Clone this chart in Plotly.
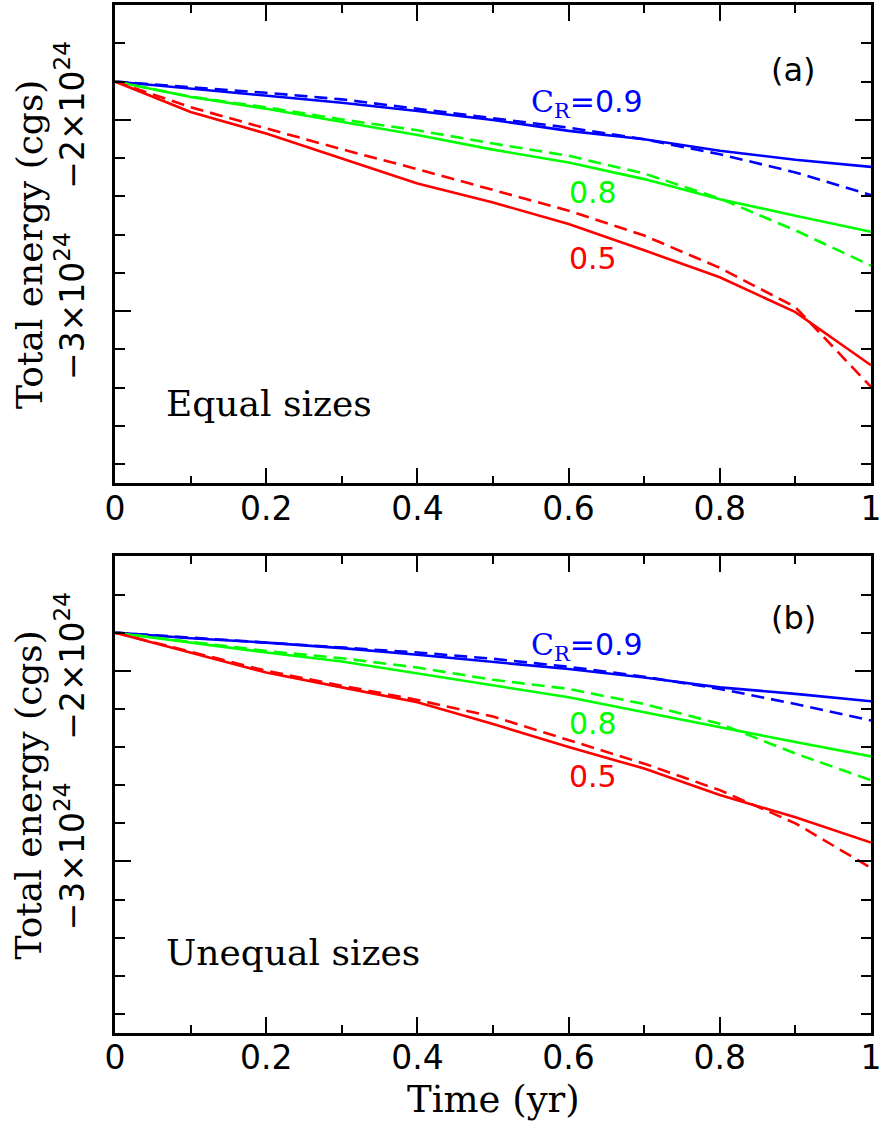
import plotly.graph_objects as go

# Energy values are given in units of 1e24 erg
E_UNIT = 1e24

time_yr = [0.0, 0.1, 0.2, 0.3, 0.4, 0.5, 0.6, 0.7, 0.8, 0.9, 1.0]

# Panel (a): equal sizes
eq_cr09_sim = [-1.80, -1.838, -1.873, -1.911, -1.954, -2.001, -2.058, -2.102, -2.162, -2.209, -2.246]
eq_cr09_model = [-1.80, -1.829, -1.859, -1.893, -1.942, -1.989, -2.041, -2.102, -2.180, -2.275, -2.394]
eq_cr08_sim = [-1.80, -1.881, -1.942, -2.011, -2.079, -2.156, -2.223, -2.310, -2.415, -2.501, -2.585]
eq_cr08_model = [-1.80, -1.879, -1.935, -1.998, -2.055, -2.124, -2.188, -2.281, -2.411, -2.578, -2.762]
eq_cr05_sim = [-1.80, -1.959, -2.072, -2.201, -2.333, -2.432, -2.545, -2.682, -2.823, -3.005, -3.283]
eq_cr05_model = [-1.80, -1.934, -2.045, -2.154, -2.258, -2.367, -2.475, -2.605, -2.774, -2.979, -3.396]

# Panel (b): unequal sizes
uneq_cr09_sim = [-1.80, -1.829, -1.852, -1.881, -1.916, -1.953, -1.991, -2.035, -2.087, -2.121, -2.160]
uneq_cr09_model = [-1.80, -1.826, -1.849, -1.875, -1.904, -1.937, -1.979, -2.031, -2.095, -2.174, -2.261]
uneq_cr08_sim = [-1.80, -1.852, -1.904, -1.951, -2.014, -2.076, -2.139, -2.217, -2.296, -2.374, -2.449]
uneq_cr08_model = [-1.80, -1.849, -1.896, -1.934, -1.983, -2.047, -2.095, -2.174, -2.278, -2.434, -2.574]
uneq_cr05_sim = [-1.80, -1.904, -2.009, -2.087, -2.165, -2.279, -2.400, -2.513, -2.652, -2.768, -2.901]
uneq_cr05_model = [-1.80, -1.901, -2.000, -2.078, -2.153, -2.240, -2.365, -2.487, -2.626, -2.800, -3.034]

x_tick_vals = [0, 0.2, 0.4, 0.6, 0.8, 1.0]
x_tick_text = ["0", "0.2", "0.4", "0.6", "0.8", "1"]
y_tick_vals = [-2.0, -3.0]
y_tick_text = ["\u22122\u00d710<sup>24</sup>", "\u22123\u00d710<sup>24</sup>"]

BLUE = "#0000ff"
GREEN = "#00ff00"
RED = "#ff0000"
SANS = "DejaVu Sans"
SERIF = "DejaVu Serif"

panels = [
    ("x", "y", [(eq_cr09_sim, eq_cr09_model, BLUE),
                (eq_cr08_sim, eq_cr08_model, GREEN),
                (eq_cr05_sim, eq_cr05_model, RED)]),
    ("x2", "y2", [(uneq_cr09_sim, uneq_cr09_model, BLUE),
                  (uneq_cr08_sim, uneq_cr08_model, GREEN),
                  (uneq_cr05_sim, uneq_cr05_model, RED)]),
]

fig = go.Figure()
for xa, ya, series in panels:
    for sim, model, color in series:
        fig.add_trace(go.Scatter(
            x=time_yr, y=[v * E_UNIT for v in sim], xaxis=xa, yaxis=ya,
            mode="lines", line=dict(color=color, width=2.6), showlegend=False))
        fig.add_trace(go.Scatter(
            x=time_yr, y=[v * E_UNIT for v in model], xaxis=xa, yaxis=ya,
            mode="lines", line=dict(color=color, width=2.6, dash="13px,7px"),
            showlegend=False))


def x_axis(anchor):
    return dict(
        anchor=anchor, domain=[0, 1], range=[0, 1],
        tickmode="array", tickvals=x_tick_vals, ticktext=x_tick_text,
        ticks="inside", ticklen=16, tickwidth=2.3, tickcolor="black",
        minor=dict(dtick=0.1, tick0=0, ticks="inside", ticklen=8,
                   tickwidth=2.3, tickcolor="black"),
        showline=True, linewidth=2.6, linecolor="black", mirror="ticks",
        showgrid=False, zeroline=False, ticklabelstandoff=-6,
        ticklabeloverflow="allow",
        tickfont=dict(family=SANS, size=33, color="black"),
    )


def y_axis(anchor, domain):
    return dict(
        anchor=anchor, domain=domain,
        range=[-3.9 * E_UNIT, -1.4 * E_UNIT],
        tickmode="array", tickvals=[v * E_UNIT for v in y_tick_vals],
        ticktext=y_tick_text, tickangle=-90,
        ticks="inside", ticklen=16, tickwidth=2.3, tickcolor="black",
        minor=dict(dtick=0.2 * E_UNIT, tick0=0, ticks="inside", ticklen=10,
                   tickwidth=2.3, tickcolor="black"),
        showline=True, linewidth=2.6, linecolor="black", mirror="ticks",
        showgrid=False, zeroline=False, ticklabelstandoff=15,
        ticklabeloverflow="allow",
        tickfont=dict(family=SANS, size=33, color="black"),
    )


fig.update_layout(
    width=884, height=1140,
    margin=dict(l=115, r=6, t=2, b=107),
    paper_bgcolor="white", plot_bgcolor="white",
    xaxis=x_axis("y"),
    yaxis=y_axis("x", [0.5347, 1.0]),
    xaxis2=x_axis("y2"),
    yaxis2=y_axis("x2", [0.0, 0.4636]),
)

cr_label = "<span style='font-family:DejaVu Serif'>C<sub>R</sub></span>=0.9"


def label(xref, yref, x, y, text, family, size, color, xanchor="center", angle=0):
    return dict(xref=xref, yref=yref, x=x, y=y, text=text, showarrow=False,
                xanchor=xanchor, yanchor="middle", textangle=angle,
                font=dict(family=family, size=size, color=color))


annotations = []
for xref, yref, tag, size_text, y_tag, y_cr, y_08, y_05, y_size in [
    ("x domain", "y domain", "(a)", "Equal sizes", 0.8645, 0.795, 0.608, 0.470, 0.166),
    ("x2 domain", "y2 domain", "(b)", "Unequal sizes", 0.870, 0.812, 0.649, 0.538, 0.168),
]:
    annotations += [
        label(xref, yref, 0.898, y_tag, tag, SANS, 32, "black"),
        label(xref, yref, 0.624, y_cr, cr_label, SANS, 30, BLUE),
        label(xref, yref, 0.632, y_08, "0.8", SANS, 30, GREEN),
        label(xref, yref, 0.632, y_05, "0.5", SANS, 30, RED),
        label(xref, yref, 0.065, y_size, size_text, SERIF, 36, "black", xanchor="left"),
        label("paper", yref, -0.114, 0.5, "Total energy (cgs)", SERIF, 36, "black", angle=-90),
    ]

annotations.append(label("x2 domain", "paper", 0.5, -0.065, "Time (yr)", SERIF, 37, "black"))

fig.update_layout(annotations=annotations)

fig.write_html("out.html")
